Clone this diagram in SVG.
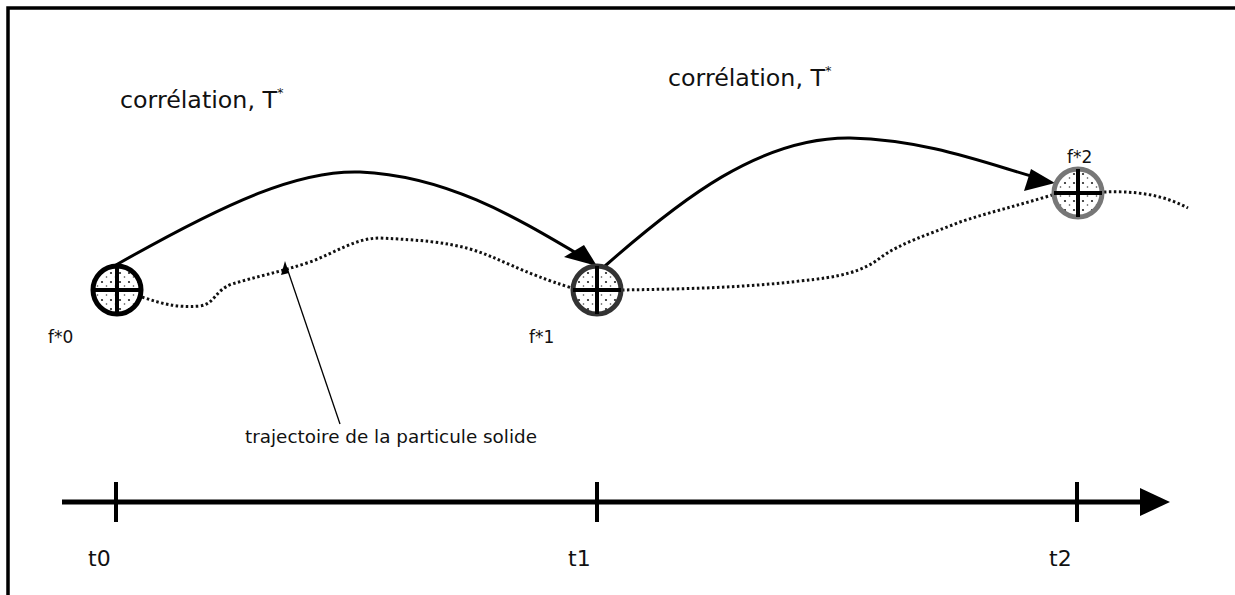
<svg xmlns="http://www.w3.org/2000/svg" width="1235" height="595" viewBox="0 0 1235 595">
<style>
text{font-family:"DejaVu Sans","Liberation Sans",sans-serif;fill:#111}
.big{font-size:23px}
.lab{font-size:17px}
.t{font-size:22px}
.traj{fill:none;stroke:#111;stroke-width:3;stroke-dasharray:2.5 2.5}
.arc{fill:none;stroke:#000;stroke-width:3}
.cross{stroke:#000;stroke-width:4}
</style>
<defs>
<pattern id="dots" width="9" height="9" patternUnits="userSpaceOnUse">
<rect width="9" height="9" fill="#fff"/>
<circle cx="3" cy="3" r="1.1" fill="#222"/>
<circle cx="7.5" cy="7" r="0.8" fill="#444"/>
</pattern>
</defs>
<rect width="1235" height="595" fill="#fff"/>
<g id="frame">
<path d="M8 595 V8 H1235" fill="none" stroke="#000" stroke-width="3.5"/>
</g>
<g id="connectors">
<path class="traj" d="M142 297 C160 303 175 308 200 306 C215 304 215 290 232 284 C255 277 280 272 310 262 C335 253 355 238 380 238 C420 240 445 242 470 249 C500 258 520 272 572 288"/>
<path class="traj" d="M622 290 C680 289 740 288 800 281 C840 277 862 272 880 258 C900 243 930 234 960 222 C990 212 1020 205 1052 195"/>
<path class="traj" d="M1104 192 C1130 191 1160 193 1188 208"/>
<path class="arc" d="M116 265 C230 200 300 170 360 172 C450 176 520 220 588 260"/>
<polygon points="597,266 564,257 584,245" fill="#000"/>
<path class="arc" d="M605 266 C680 200 760 137 850 138 C930 140 990 165 1045 180"/>
<polygon points="1055,183 1024,191 1031,169" fill="#000"/>
<line x1="340" y1="424" x2="287" y2="268" stroke="#000" stroke-width="1.3"/>
<polygon points="285,261 281,275 289,273" fill="#000"/>
</g>
<g id="node-f0">
<circle cx="117" cy="290" r="24" fill="url(#dots)" stroke="#000" stroke-width="5"/>
<line class="cross" x1="117" y1="266" x2="117" y2="314"/>
<line class="cross" x1="93" y1="290" x2="141" y2="290"/>
<text class="lab" x="48" y="343">f*0</text>
</g>
<g id="node-f1">
<circle cx="597" cy="290" r="24" fill="url(#dots)" stroke="#333" stroke-width="5"/>
<line class="cross" x1="597" y1="266" x2="597" y2="314"/>
<line class="cross" x1="573" y1="290" x2="621" y2="290"/>
<text class="lab" x="529" y="343">f*1</text>
</g>
<g id="node-f2">
<circle cx="1078" cy="193" r="24" fill="url(#dots)" stroke="#777" stroke-width="5"/>
<line class="cross" x1="1078" y1="169" x2="1078" y2="217"/>
<line class="cross" x1="1054" y1="193" x2="1102" y2="193"/>
<text class="lab" x="1067" y="163">f*2</text>
</g>
<g id="labels">
<text class="big" x="120" y="108"><tspan textLength="157" lengthAdjust="spacingAndGlyphs">corrélation, T</tspan><tspan font-size="13" dy="-11">*</tspan></text>
<text class="big" x="668" y="86"><tspan textLength="157" lengthAdjust="spacingAndGlyphs">corrélation, T</tspan><tspan font-size="13" dy="-11">*</tspan></text>
<text class="lab" x="245" y="443" textLength="292" lengthAdjust="spacingAndGlyphs">trajectoire de la particule solide</text>
</g>
<g id="timeline">
<line x1="62" y1="502" x2="1145" y2="502" stroke="#000" stroke-width="5"/>
<polygon points="1140,488 1170,502 1140,516" fill="#000"/>
<line x1="116" y1="482" x2="116" y2="522" stroke="#000" stroke-width="4"/>
<line x1="597" y1="482" x2="597" y2="522" stroke="#000" stroke-width="4"/>
<line x1="1077" y1="482" x2="1077" y2="522" stroke="#000" stroke-width="4"/>
<text class="t" x="88" y="566">t0</text>
<text class="t" x="568" y="566">t1</text>
<text class="t" x="1049" y="566">t2</text>
</g>
</svg>
